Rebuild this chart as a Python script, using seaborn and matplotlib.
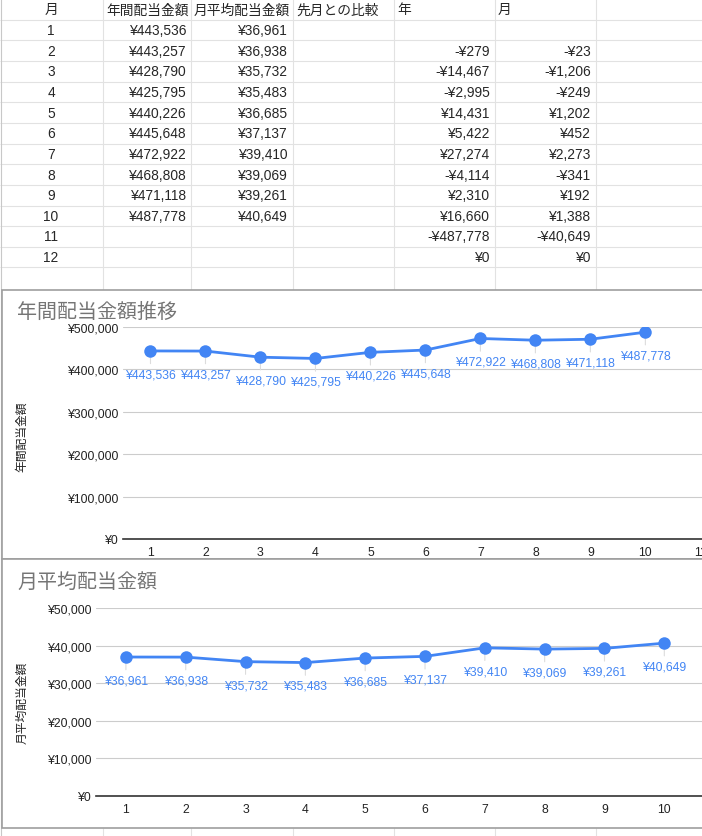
import pandas as pd
import matplotlib.pyplot as plt
import seaborn as sns
from matplotlib.patches import Rectangle
from matplotlib.ticker import FuncFormatter

# data
months = [1, 2, 3, 4, 5, 6, 7, 8, 9, 10]
annual = [443536, 443257, 428790, 425795, 440226, 445648, 472922, 468808, 471118, 487778]
monthly = [36961, 36938, 35732, 35483, 36685, 37137, 39410, 39069, 39261, 40649]
diff_months = [2, 3, 4, 5, 6, 7, 8, 9, 10, 11, 12]
diff_annual = [-279, -14467, -2995, 14431, 5422, 27274, -4114, 2310, 16660, -487778, 0]
diff_monthly = [-23, -1206, -249, 1202, 452, 2273, -341, 192, 1388, -40649, 0]
headers = ['月', '年間配当金額', '月平均配当金額', '先月との比較', '年', '月']

df = pd.DataFrame({'月': months, '年間配当金額': annual, '月平均配当金額': monthly})


def yen(v, pos=None):
    v = int(round(v))
    return f'-¥{-v:,}' if v < 0 else f'¥{v:,}'


sns.set_theme(style='white')
plt.rcParams['font.family'] = ['Liberation Sans', 'Noto Sans CJK JP', 'DejaVu Sans']

W, H = 702, 837
fig = plt.figure(figsize=(W / 100, H / 100), dpi=100)


def box(l, t, r, b):
    return [l / W, 1 - b / H, (r - l) / W, (b - t) / H]


# background sheet (pixel coordinates)
bg = fig.add_axes([0, 0, 1, 1])
bg.set_xlim(0, W)
bg.set_ylim(H, 0)
bg.axis('off')

grid_c = '#e2e2e2'
row_h = 20.65
col_edges = [103, 191, 293, 394, 495, 596]
for k in range(1, 14):
    bg.hlines(k * row_h, 0, W, color=grid_c, lw=0.8)
bg.vlines(col_edges, 0, 291, color=grid_c, lw=0.8)
bg.vlines(col_edges, 829, H, color=grid_c, lw=0.8)
bg.vlines(0.8, 0, H, color='#c8c8c8', lw=0.8)

tfs = 9.9
# header row
bg.text(51, row_h * 0.5, headers[0], ha='center', va='center', fontsize=tfs)
for edge, h in zip([103, 191, 293, 394, 495], headers[1:]):
    bg.text(edge + 3, row_h * 0.5, h, ha='left', va='center', fontsize=tfs)

for m in range(1, 13):
    bg.text(51, row_h * (m + 0.5), str(m), ha='center', va='center', fontsize=tfs)
for m, a, mo in zip(months, annual, monthly):
    y = row_h * (m + 0.5)
    bg.text(187, y, yen(a), ha='right', va='center', fontsize=tfs)
    bg.text(288, y, yen(mo), ha='right', va='center', fontsize=tfs)
for m, da, dm in zip(diff_months, diff_annual, diff_monthly):
    y = row_h * (m + 0.5)
    bg.text(490, y, yen(da), ha='right', va='center', fontsize=tfs)
    bg.text(591, y, yen(dm), ha='right', va='center', fontsize=tfs)

# chart frames
for top in [291, 560]:
    bg.add_patch(Rectangle((2, top), 702, 269, facecolor='white',
                           edgecolor='#9e9e9e', lw=1.2, zorder=3))

bg.text(17, 312, '年間配当金額推移', fontsize=14.4, color='#757575',
        va='center', ha='left', zorder=4)
bg.text(17, 582, '月平均配当金額', fontsize=14.4, color='#757575',
        va='center', ha='left', zorder=4)
bg.text(22, 437, '年間配当金額', rotation=90, fontsize=8.5,
        va='center', ha='center', color='#222222', zorder=4)
bg.text(22, 703, '月平均配当金額', rotation=90, fontsize=8.5,
        va='center', ha='center', color='#222222', zorder=4)

blue = '#4285f4'


def draw_chart(rect, col, ymax, step, xmax, xticks):
    ax = fig.add_axes(rect)
    ax.patch.set_alpha(0)
    sns.lineplot(data=df, x='月', y=col, ax=ax, color=blue, lw=2.0,
                 marker='o', markersize=9, markeredgewidth=0, zorder=5)
    for x, v in zip(df['月'], df[col]):
        ax.annotate(yen(v), xy=(x, v), xytext=(0, -12.5), textcoords='offset points',
                    ha='center', va='top', fontsize=8.8, color=blue, zorder=4,
                    arrowprops=dict(arrowstyle='-', color='#dcdcdc', lw=0.8,
                                    shrinkA=1, shrinkB=0))
    ax.set_xlim(0.5, xmax)
    ax.set_ylim(0, ymax)
    ax.set_yticks(range(0, ymax + 1, step))
    ax.yaxis.set_major_formatter(FuncFormatter(yen))
    ax.set_xticks(xticks)
    ax.grid(axis='y', color='#cccccc', lw=0.8)
    ax.grid(axis='x', visible=False)
    for s in ['top', 'right', 'left']:
        ax.spines[s].set_visible(False)
    ax.spines['bottom'].set_color('#333333')
    ax.spines['bottom'].set_linewidth(1.2)
    ax.tick_params(axis='y', length=0, pad=3.5, labelsize=8.8, labelcolor='#222222')
    ax.tick_params(axis='x', length=0, pad=5, labelsize=8.8, labelcolor='#222222')
    ax.set_xlabel('')
    ax.set_ylabel('')
    return ax


draw_chart(box(123, 328, 702, 540), '年間配当金額', 500000, 100000, 11.03, range(1, 12))
draw_chart(box(96, 609, 702, 797), '月平均配当金額', 50000, 10000, 10.63, range(1, 11))

plt.savefig('out.png', dpi=100)
